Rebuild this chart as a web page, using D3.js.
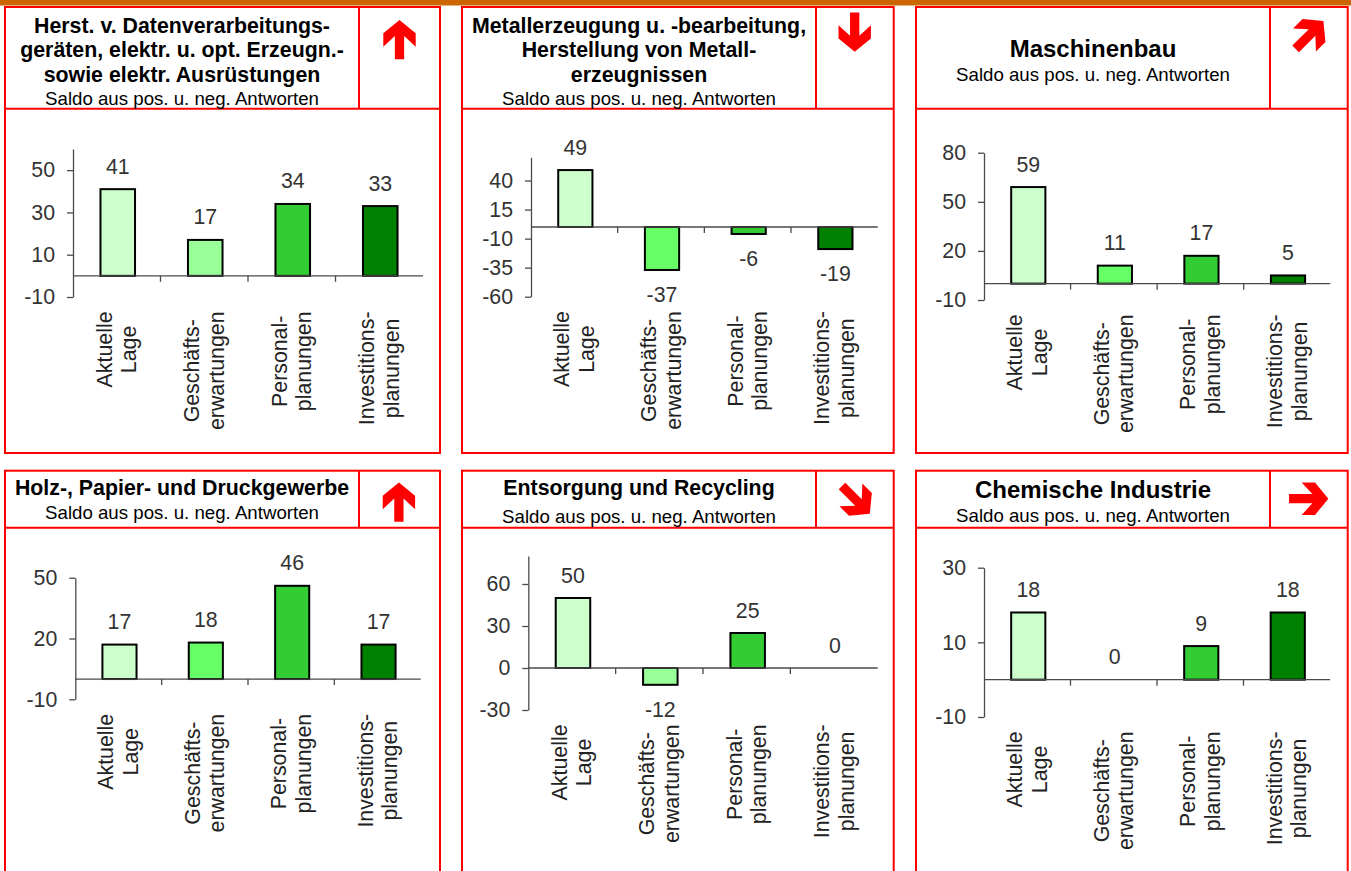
<!DOCTYPE html>
<html>
<head>
<meta charset="utf-8">
<script src="https://cdn.jsdelivr.net/npm/d3@7"></script>
<style>
  html, body { margin: 0; padding: 0; background: #fff; }
  svg { display: block; }
  text { font-family: "Liberation Sans", Arial, sans-serif; }
</style>
</head>
<body>
<script>
// ---------- DATA ----------
const categoryLines = [["Aktuelle", "Lage"], ["Geschäfts-", "erwartungen"], ["Personal-", "planungen"], ["Investitions-", "planungen"]];
const subtitle = "Saldo aus pos. u. neg. Antworten";

const titles = [
  ["Herst. v. Datenverarbeitungs-", "geräten, elektr. u. opt. Erzeugn.-", "sowie elektr. Ausrüstungen"],
  ["Metallerzeugung u. -bearbeitung,", "Herstellung von Metall-", "erzeugnissen"],
  ["Maschinenbau"],
  ["Holz-, Papier- und Druckgewerbe"],
  ["Entsorgung und Recycling"],
  ["Chemische Industrie"]
];

const valuesDatenverarbeitung = [41, 17, 34, 33];
const valuesMetall = [49, -37, -6, -19];
const valuesMaschinenbau = [59, 11, 17, 5];
const valuesHolzPapier = [17, 18, 46, 17];
const valuesEntsorgung = [50, -12, 25, 0];
const valuesChemie = [18, 0, 9, 18];
const panelValues = [valuesDatenverarbeitung, valuesMetall, valuesMaschinenbau, valuesHolzPapier, valuesEntsorgung, valuesChemie];

const yDomains = [[-10, 60], [-60, 60], [-10, 80], [-10, 50], [-30, 80], [-10, 30]];
const yTicks = [[-10, 10, 30, 50], [-60, -35, -10, 15, 40], [-10, 20, 50, 80], [-10, 20, 50], [-30, 0, 30, 60], [-10, 10, 30]];

// trend arrow direction in degrees (0 = up, clockwise)
const trendAngles = [0, 180, 45, 0, 135, 90];

// ---------- STYLE / LAYOUT ----------
const barColors = [
  ["#CCFFCC", "#99FF99", "#33CC33", "#008000"],
  ["#CCFFCC", "#66FF66", "#33CC33", "#008000"],
  ["#CCFFCC", "#66FF66", "#33CC33", "#008000"],
  ["#CCFFCC", "#66FF66", "#33CC33", "#008000"],
  ["#CCFFCC", "#99FF99", "#33CC33", "#008000"],
  ["#CCFFCC", "#66FF66", "#33CC33", "#008000"]
];

const layout = [
  { x: 5,   y: 7,     w: 435,   h: 446,   headH: 101.7, div: 354,   plot: [73, 423, 149, 297],      tFont: 21.33, tBase: [33.3, 57.3, 81.5], sBase: 105,   arrow: [399.5, 39.6] },
  { x: 462, y: 7,     w: 431.7, h: 446,   headH: 101.7, div: 354,   plot: [531, 877.7, 157.3, 296.7], tFont: 21.33, tBase: [33.3, 57.0, 81.5], sBase: 104.5, arrow: [854.7, 32.2] },
  { x: 916, y: 7,     w: 431.7, h: 446,   headH: 101.7, div: 354,   plot: [984, 1330.3, 152.7, 300],  tFont: 24,    tBase: [57.3],             sBase: 81.3,  arrow: [1309.5, 35] },
  { x: 5,   y: 470.7, w: 435,   h: 430,   headH: 57,    div: 354,   plot: [75.3, 420.7, 577.7, 699.3], tFont: 21.33, tBase: [495],             sBase: 518.5, arrow: [398.9, 502.2] },
  { x: 462, y: 470.7, w: 431.7, h: 430,   headH: 57,    div: 354,   plot: [528.3, 877.7, 556, 710],   tFont: 21.33, tBase: [495],             sBase: 523.3, arrow: [855.9, 499.9] },
  { x: 916, y: 470.7, w: 431.7, h: 430,   headH: 57,    div: 354,   plot: [984, 1330, 567.7, 717],    tFont: 24,    tBase: [498.3],           sBase: 521.8, arrow: [1308.7, 498.7] }
];

const W = 1351, H = 871;
const RED = "#FF0000";
const AXIS = "#4a4a4a";
const FONT_NUM = 21.33;

const svg = d3.select("body").append("svg").attr("width", W).attr("height", H);

// top orange band
svg.append("rect").attr("x", 0).attr("y", 0).attr("width", W).attr("height", 5.5).attr("fill", "#CC6600");

// arrow polygon (pointing up, centred at 0,0)
const arrowPts = [
  [0, -19.65], [16.2, -6.35], [16.2, 7.05], [4.65, -3.65], [4.65, 19.65],
  [-4.65, 19.65], [-4.65, -3.65], [-16.2, 7.05], [-16.2, -6.35]
];

layout.forEach((L, i) => {
  const g = svg.append("g");
  const vals = panelValues[i];

  // frame
  g.append("rect").attr("x", L.x).attr("y", L.y).attr("width", L.w).attr("height", L.h)
    .attr("fill", "#fff").attr("stroke", RED).attr("stroke-width", 2);
  g.append("line").attr("x1", L.x).attr("x2", L.x + L.w).attr("y1", L.y + L.headH).attr("y2", L.y + L.headH)
    .attr("stroke", RED).attr("stroke-width", 2);
  g.append("line").attr("x1", L.x + L.div).attr("x2", L.x + L.div).attr("y1", L.y).attr("y2", L.y + L.headH)
    .attr("stroke", RED).attr("stroke-width", 2);

  // title
  const tcx = L.x + L.div / 2;
  titles[i].forEach((line, k) => {
    g.append("text").attr("x", tcx).attr("y", L.tBase[k]).attr("text-anchor", "middle")
      .attr("font-size", L.tFont).attr("font-weight", "bold").attr("fill", "#000").text(line);
  });
  g.append("text").attr("x", tcx).attr("y", L.sBase).attr("text-anchor", "middle")
    .attr("font-size", 18.67).attr("fill", "#000").text(subtitle);

  // trend arrow
  g.append("polygon")
    .attr("points", arrowPts.map(p => p.join(",")).join(" "))
    .attr("fill", RED)
    .attr("transform", `translate(${L.arrow[0]},${L.arrow[1]}) rotate(${trendAngles[i]})`);

  // scales
  const [pl, pr, pt, pb] = L.plot;
  const x = d3.scaleBand().domain(d3.range(categoryLines.length)).range([pl, pr]).padding(0);
  const y = d3.scaleLinear().domain(yDomains[i]).range([pb, pt]);
  const step = x.step();
  const bw = step * 0.395;

  // y axis
  const yAxis = d3.axisLeft(y).tickValues(yTicks[i]).tickFormat(d => String(d))
    .tickSize(6).tickSizeOuter(0).tickPadding(12);
  const ya = g.append("g").attr("transform", `translate(${pl},0)`).call(yAxis);
  ya.select(".domain").attr("stroke", AXIS).attr("stroke-width", 1.3);
  ya.selectAll(".tick line").attr("stroke", AXIS).attr("stroke-width", 1.3);
  ya.selectAll(".tick text").attr("font-size", FONT_NUM).attr("fill", "#333")
    .attr("font-family", "'Liberation Sans', Arial, sans-serif");

  // bars
  const data = vals.map((v, k) => ({ v, k })).filter(d => d.v !== 0);
  g.selectAll("rect.bar").data(data).enter().append("rect").attr("class", "bar")
    .attr("x", d => x(d.k) + (step - bw) / 2 + 1)
    .attr("width", bw)
    .attr("y", d => Math.min(y(d.v), y(0)))
    .attr("height", d => Math.abs(y(d.v) - y(0)))
    .attr("fill", d => barColors[i][d.k])
    .attr("stroke", "#000").attr("stroke-width", 2);

  // zero line (category axis)
  const y0 = y(0);
  g.append("line").attr("x1", pl).attr("x2", pr).attr("y1", y0).attr("y2", y0)
    .attr("stroke", AXIS).attr("stroke-width", 1.3);
  d3.range(1, categoryLines.length).forEach(k => {
    g.append("line").attr("x1", x(k)).attr("x2", x(k)).attr("y1", y0).attr("y2", y0 + 6)
      .attr("stroke", AXIS).attr("stroke-width", 1.3);
  });

  // value labels
  vals.forEach((v, k) => {
    const cx = x(k) + step / 2 + 1;
    const yy = v >= 0 ? y(v) - 15.5 : y(v) + 32;
    g.append("text").attr("x", cx).attr("y", yy).attr("text-anchor", "middle")
      .attr("font-size", FONT_NUM).attr("fill", "#333").text(String(v));
  });

  // category labels (rotated)
  const labelTop = pb + 14.5;
  categoryLines.forEach((lines, k) => {
    const cx = x(k) + step / 2;
    const lg = g.append("g").attr("transform", `translate(${cx},${labelTop}) rotate(-90)`);
    const texts = lines.map((ln, j) => lg.append("text")
      .attr("y", j === 0 ? -5 : 19.5)
      .attr("text-anchor", "middle")
      .attr("font-size", FONT_NUM).attr("fill", "#222").text(ln));
    const maxLen = d3.max(texts, t => t.node().getComputedTextLength());
    texts.forEach(t => t.attr("x", -maxLen / 2));
  });
});
</script>
</body>
</html>
